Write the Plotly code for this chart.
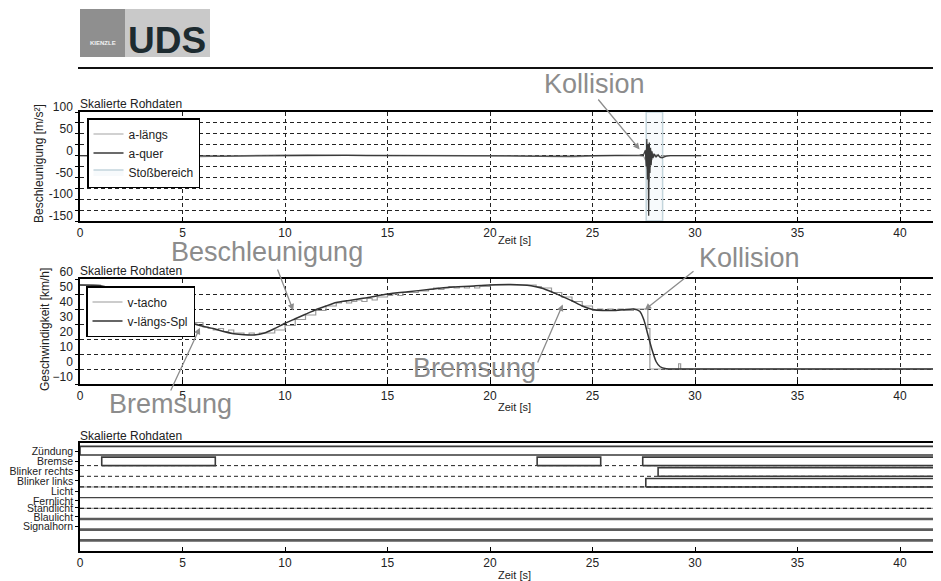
import plotly.graph_objects as go

# ---------------- data ----------------
# acceleration panel
a_t = [0, 1, 2, 3, 4, 5, 6, 7, 8, 9, 10, 11, 12, 13, 14, 15, 16, 17, 18, 19, 20,
       21, 22, 23, 24, 25, 26, 27, 27.3, 27.5, 27.58, 27.62, 27.65, 27.68, 27.71,
       27.74, 27.77, 27.8, 27.83, 27.86, 27.9, 27.95, 28.0, 28.1, 28.2, 28.3, 28.4,
       28.5, 28.6, 28.8, 29.0, 29.5, 30.0, 30.3]
a_laengs = [0, -1, -4, -4.5, -4, -3.5, -3, -1.5, 0, 1, 2, 2.5, 2, 1.5, 1, 1, 0.5, 0.5,
            0.5, 0, 0, 0, -1, -2.5, -3, -1, 0, 0, -0.5, -2, -10, 15, -30, 20, -45, 10,
            -60, 8, -20, 12, -10, 5, -3, 2, -1, -2, -1, 0, 0, 0, 0, 0, 0, 0]
a_quer = [0, 0, 0.5, 1, 0.5, 0, -0.5, -1, -0.5, 0, 0.5, 1, 1, 0.5, 0, 0, 0.5, 1, 1,
          0.5, 0, -0.5, -1, -1.5, -1, 0, 0.5, 0, 1, 3, 12, -25, 38, -55, 25, -138, 30,
          -40, 18, -22, 10, -6, 4, -3, 2, -4, -5, -3, -1, 0, 0, 0, 0, 0]
stoss_start, stoss_end = 27.62, 28.42

# speed panel
v_spl_t = [0, 1, 2, 3, 4, 5, 5.5, 6, 6.5, 7, 7.5, 8, 8.5, 9, 9.5, 10, 10.5, 11, 11.5,
           12, 12.5, 13, 14, 15, 16, 17, 18, 19, 20, 21, 22, 22.5, 23, 23.5, 24, 24.5,
           25, 25.5, 26, 26.5, 27, 27.3, 27.5, 27.7, 27.9, 28.1, 28.3, 28.6, 29, 30, 42]
v_spl = [56, 55.5, 52, 47, 40, 33.5, 30.5, 28.5, 27, 25, 23.5, 22.8, 22.7, 24, 27,
         30.5, 33.5, 36.5, 39.5, 42, 44.3, 45.5, 47.5, 50, 51.5, 53, 54.5, 55.2, 56,
         56.3, 55.5, 54, 51.5, 48.5, 45.5, 42, 39.7, 39, 39, 39.5, 40, 38.5, 33, 23,
         13, 5, 1.5, 0.2, 0, 0, 0]
v_tacho_t = [0, 0.5, 1, 1.5, 2, 2.5, 3, 3.5, 4, 4.5, 5, 5.5, 6, 6.25, 6.5, 6.75, 7,
             7.25, 7.5, 8, 8.25, 8.5, 8.75, 9, 9.5, 10, 10.5, 11, 11.5, 12, 12.5, 12.75,
             13, 13.25, 13.5, 13.75, 14, 14.25, 14.5, 15, 15.25, 15.5, 15.75, 16, 16.5,
             17, 17.25, 17.5, 17.75, 18, 18.25, 18.5, 18.75, 19, 19.25, 19.5, 20, 20.5,
             21, 21.5, 22, 22.25, 22.5, 23, 23.5, 24, 24.5, 25, 25.25, 25.5, 25.75, 26,
             26.25, 26.5, 27, 27.7, 27.8, 29.2, 29.3, 42]
v_tacho = [56, 56, 55, 54, 52, 50, 47, 44, 40, 37, 33, 31, 28, 27, 26, 27, 25, 26, 24,
           23, 24, 23, 24, 24, 26, 29, 33, 36, 39, 42, 44, 45, 44, 45, 46, 45, 47, 46,
           48, 49, 50, 49, 51, 51, 52, 53, 54, 53, 54, 55, 54, 55, 54, 55, 54, 55, 56,
           56, 56, 56, 56, 55, 54, 51, 48, 45, 42, 39, 40, 39, 40, 39, 40, 39, 40, 27,
           0, 3.5, 0, 0]

# digital channels panel
channels = ["Zündung", "Bremse", "Blinker rechts", "Blinker links", "Licht",
            "Fernlicht", "Standlicht", "Blaulicht", "Signalhorn"]
on_start = {"Zündung": [0], "Bremse": [1.06, 22.3, 27.45],
            "Blinker rechts": [28.2], "Blinker links": [27.6]}
on_end = {"Zündung": [42], "Bremse": [6.6, 25.4, 42],
          "Blinker rechts": [42], "Blinker links": [42]}

x_ticks = [0, 5, 10, 15, 20, 25, 30, 35, 40]
a_ticks = [-150, -100, -50, 0, 50, 100]
v_ticks = [-10, 0, 10, 20, 30, 40, 50, 60]

# ---------------- layout constants ----------------
OFF = 8                      # page body margin of the html page
PAGE_W, PAGE_H = 941, 581
W, H = PAGE_W - OFF, PAGE_H - OFF
PLOT_LEFT = 80               # page pixel of x = 0
L = PLOT_LEFT - OFF
X_RANGE = [0, 42]
A_RANGE = [-150, 100]
V_RANGE = [-10, 60]
D_RANGE = [0, 10.12]
TOP_PIX = (112, 221)
MID_PIX = (279, 384)
BOT_PIX = (443, 551)
LABEL_Y = [9.37, 8.43, 7.5, 6.56, 5.62, 4.69, 4.03, 3.19, 2.34]
ON_H = 0.8
FONT = "Liberation Sans, Arial, sans-serif"
GRID = dict(showgrid=True, gridcolor="#222", gridwidth=1, griddash="4px,3px")


def PX(x):
    return (x - PLOT_LEFT) / (W - L)


def PY(y):
    return 1 - (y - OFF) / H


def dom(p):
    return [PY(p[1]), PY(p[0])]


def xpix(t):
    return PLOT_LEFT + (t - X_RANGE[0]) / (X_RANGE[1] - X_RANGE[0]) * (W - L)


def ypix(v, rng, p):
    return p[1] - (v - rng[0]) / (rng[1] - rng[0]) * (p[1] - p[0])


def note(text, x, y, size, color="#222", angle=0, xa="center"):
    return dict(xref="paper", yref="paper", x=PX(x), y=PY(y), text=text,
                showarrow=False, xanchor=xa, yanchor="middle", textangle=angle,
                font=dict(size=size, color=color, family=FONT))


fig = go.Figure()

# ---- top panel ----
fig.add_trace(go.Scatter(
    x=[stoss_start, stoss_start, stoss_end, stoss_end, stoss_start],
    y=[A_RANGE[0], A_RANGE[1], A_RANGE[1], A_RANGE[0], A_RANGE[0]],
    fill="toself", fillcolor="rgba(200,222,232,0.15)", mode="lines",
    line=dict(color="#c3d5dc", width=1.5), name="Stoßbereich",
    xaxis="x", yaxis="y", legend="legend", legendrank=3, hoverinfo="skip"))
fig.add_trace(go.Scatter(x=a_t, y=a_laengs, mode="lines", name="a-längs",
                         line=dict(color="#a3a3a3", width=1.2),
                         xaxis="x", yaxis="y", legend="legend", legendrank=1))
fig.add_trace(go.Scatter(x=a_t, y=a_quer, mode="lines", name="a-quer",
                         line=dict(color="#3a3a3a", width=1.3),
                         xaxis="x", yaxis="y", legend="legend", legendrank=2))

# ---- middle panel ----
fig.add_trace(go.Scatter(x=v_tacho_t, y=v_tacho, mode="lines", name="v-tacho",
                         line=dict(color="#9a9a9a", width=1.2, shape="hv"),
                         xaxis="x2", yaxis="y2", legend="legend2", legendrank=1))
fig.add_trace(go.Scatter(x=v_spl_t, y=v_spl, mode="lines", name="v-längs-Spl",
                         line=dict(color="#333333", width=1.5, shape="spline", smoothing=0.6),
                         xaxis="x2", yaxis="y2", legend="legend2", legendrank=2))

# ---- bottom panel ----
for i, ch in enumerate(channels):
    if ch not in on_start:
        continue
    row = len(channels) - i
    xs, ys = [], []
    for s, e in zip(on_start[ch], on_end[ch]):
        xs += [s, s, e, e, s, None]
        ys += [row, row + ON_H, row + ON_H, row, row, None]
    fig.add_trace(go.Scatter(x=xs, y=ys, mode="lines", showlegend=False,
                             line=dict(color="#3a3a3a", width=1.6),
                             xaxis="x3", yaxis="y3", hoverinfo="skip"))

shapes = []
# logo
shapes.append(dict(type="rect", xref="paper", yref="paper", x0=PX(80), x1=PX(210),
                   y0=PY(57), y1=PY(9), fillcolor="#c9c9c9", line=dict(width=0)))
shapes.append(dict(type="rect", xref="paper", yref="paper", x0=PX(80), x1=PX(125),
                   y0=PY(57), y1=PY(9), fillcolor="#8f8f8f", line=dict(width=0)))
shapes.append(dict(type="line", xref="paper", yref="paper", x0=PX(78), x1=1.0,
                   y0=PY(68), y1=PY(68), line=dict(color="#111", width=2)))

# digital panel row lines (style per channel row)
row_style = {
    "Zündung": None,
    "Bremse": "dash", "Blinker rechts": "dash", "Blinker links": "dashsolid",
    "Licht": "solid", "Fernlicht": "dashsolid",
    "Standlicht": "thick", "Blaulicht": "thick", "Signalhorn": "thick",
}
for i, ch in enumerate(channels):
    row = len(channels) - i
    st = row_style[ch]
    base = dict(type="line", xref="x3 domain", yref="y3", x0=0, x1=1, y0=row, y1=row,
                layer="below")
    if st == "dash":
        shapes.append({**base, "line": dict(color="#222", width=1, dash="4px,3px")})
    elif st == "dashsolid":
        shapes.append({**base, "line": dict(color="#8a8a8a", width=1)})
        shapes.append({**base, "line": dict(color="#222", width=1.3, dash="4px,3px")})
    elif st == "solid":
        shapes.append({**base, "line": dict(color="#444", width=1.3)})
    elif st == "thick":
        shapes.append({**base, "line": dict(color="#5c5c5c", width=2.6)})

annotations = []
# logo text
annotations.append(note("<b>KIENZLE</b>", 102.5, 43, 6, "#f2f2f2"))
annotations.append(note("<b>UDS</b>", 166.5, 40, 37, "#1d2b30"))

# panel titles
for py_ in (104, 271, 436):
    annotations.append(note("Skalierte Rohdaten", 78, py_, 12, xa="left"))
# axis titles
for py_ in (240, 407, 575):
    annotations.append(note("Zeit [s]", 515, py_, 11))
annotations.append(note("Beschleunigung [m/s²]", 39, 164, 12, angle=-90))
annotations.append(note("Geschwindigkeit [km/h]", 45, 330, 12, angle=-90))

# big gray callouts
GRAY = "#8c8c8c"
for txt, cx, cy in [("Kollision", 594, 84), ("Beschleunigung", 267, 252),
                    ("Kollision", 749, 258), ("Bremsung", 170, 404),
                    ("Bremsung", 474, 368)]:
    annotations.append(note(txt, cx, cy, 27, GRAY))

# arrows: (axis pair, head data coords, tail pixel)
arrows = [
    ("x", "y", 27.3, 14, A_RANGE, TOP_PIX, (597, 98)),
    ("x2", "y2", 10.4, 39, V_RANGE, MID_PIX, (277, 268)),
    ("x2", "y2", 27.55, 39.5, V_RANGE, MID_PIX, (695, 270)),
    ("x2", "y2", 5.85, 27.5, V_RANGE, MID_PIX, (170, 392)),
    ("x2", "y2", 23.55, 43, V_RANGE, MID_PIX, (537, 364)),
]
for xr, yr, hx, hy, rng, pix, tail in arrows:
    hpx = xpix(hx)
    hpy = ypix(hy, rng, pix)
    annotations.append(dict(xref=xr, yref=yr, x=hx, y=hy, text="", showarrow=True,
                            ax=tail[0] - hpx, ay=tail[1] - hpy, arrowhead=2,
                            arrowsize=1, arrowwidth=1.3, arrowcolor=GRAY, standoff=0))

xcommon = dict(range=X_RANGE, showline=True, linecolor="black", linewidth=1.5,
               mirror=True, ticks="inside", ticklen=4, tickcolor="black",
               tickvals=x_ticks, zeroline=False, automargin=False,
               tickfont=dict(size=12, color="#222", family=FONT))
ycommon = dict(showline=True, linecolor="black", linewidth=1.5, ticks="outside",
               ticklen=3, tickcolor="black", zeroline=False, automargin=False,
               tickfont=dict(size=12, color="#222", family=FONT))

a_grid = list(range(A_RANGE[0], A_RANGE[1] + 1, 25))
fig.update_layout(
    width=W, height=H, autosize=False,
    margin=dict(l=L, r=0, t=0, b=0, pad=0, autoexpand=False),
    paper_bgcolor="white", plot_bgcolor="white",
    font=dict(family=FONT, color="#222"),
    xaxis=dict(**xcommon, **GRID, domain=[0, 1], anchor="y"),
    yaxis=dict(**ycommon, **GRID, range=A_RANGE, domain=dom(TOP_PIX), anchor="x",
               tickvals=a_grid, ticktext=[str(v) if v in a_ticks else "" for v in a_grid],
               ticklabelshift=-5),
    xaxis2=dict(**xcommon, **GRID, domain=[0, 1], anchor="y2"),
    yaxis2=dict(**ycommon, **GRID, range=V_RANGE, domain=dom(MID_PIX), anchor="x2",
                tickvals=v_ticks, ticklabelshift=-7),
    xaxis3=dict(**xcommon, showgrid=False, domain=[0, 1], anchor="y3"),
    yaxis3=dict(showline=True, linecolor="black", linewidth=1.5, ticks="outside",
                ticklen=3, tickcolor="black", zeroline=False, showgrid=False,
                automargin=False,
                range=D_RANGE, domain=dom(BOT_PIX), anchor="x3",
                tickvals=LABEL_Y, ticktext=channels,
                tickfont=dict(size=10.5, color="#222", family=FONT)),
    legend=dict(x=PX(87), y=PY(118), xanchor="left", yanchor="top",
                bgcolor="white", bordercolor="black", borderwidth=1.5,
                font=dict(size=12, color="#222", family=FONT), itemwidth=30,
                tracegroupgap=0),
    legend2=dict(x=PX(86), y=PY(286), xanchor="left", yanchor="top",
                 bgcolor="white", bordercolor="black", borderwidth=1.5,
                 font=dict(size=12, color="#222", family=FONT), itemwidth=30,
                 tracegroupgap=0),
    shapes=shapes,
    annotations=annotations,
    showlegend=True,
)

fig.write_html("out.html")
